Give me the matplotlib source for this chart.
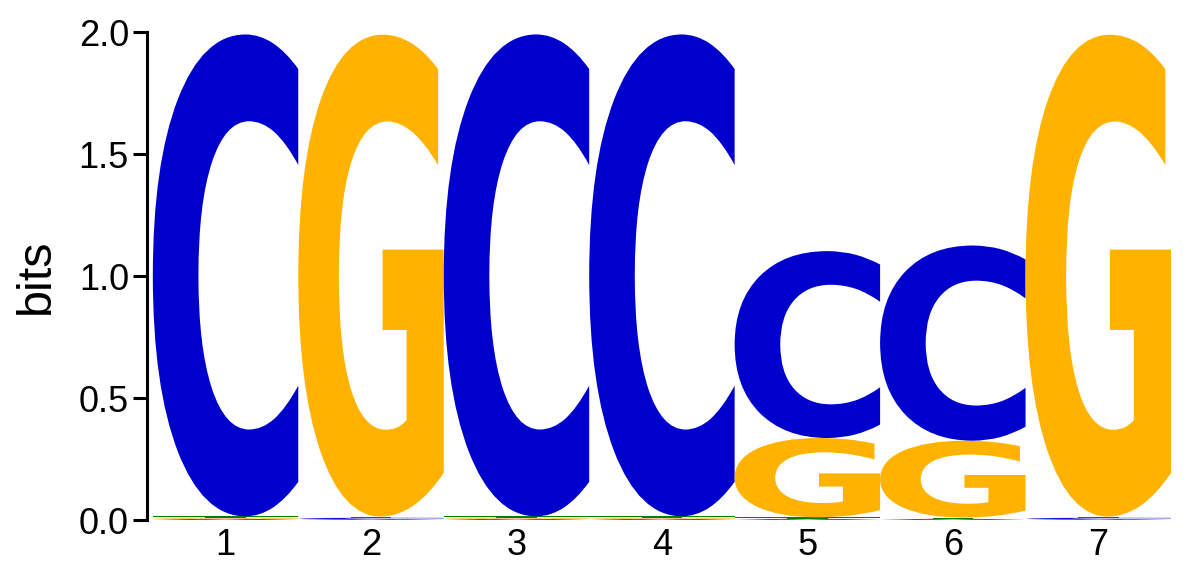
import matplotlib
matplotlib.use("Agg")
import matplotlib.pyplot as plt
from matplotlib.textpath import TextPath
from matplotlib.font_manager import FontProperties
from matplotlib.patches import PathPatch
from matplotlib.transforms import Affine2D

# information content (bits) per base at each motif position
positions = [1, 2, 3, 4, 5, 6, 7]
A_bits = [0.005, 0.004, 0.005, 0.005, 0.005, 0.005, 0.004]
C_bits = [1.975, 0.005, 1.975, 1.975, 0.766, 0.800, 0.005]
G_bits = [0.005, 1.975, 0.005, 0.005, 0.325, 0.315, 1.975]
T_bits = [0.005, 0.005, 0.005, 0.005, 0.006, 0.005, 0.005]

base_colors = {"A": "#CC0000", "C": "#0000CC", "G": "#FFB300", "T": "#008000"}
letter_font = FontProperties(family="DejaVu Sans", weight="bold")


def draw_letter(ax, letter, x, y0, height, width=1.0):
    path = TextPath((0, 0), letter, size=1, prop=letter_font)
    ext = path.get_extents()
    tr = (Affine2D()
          .translate(-ext.x0, -ext.y0)
          .scale(width / ext.width, height / ext.height)
          .translate(x - width / 2, y0))
    patch = PathPatch(tr.transform_path(path), facecolor=base_colors[letter],
                      edgecolor="none", lw=0)
    ax.add_patch(patch)


fig = plt.figure(figsize=(11.94, 5.65), dpi=100)
ax = fig.add_axes([147 / 1194, 45 / 565, (1171 - 147) / 1194, 488 / 565])

for i, pos in enumerate(positions):
    col = {"A": A_bits[i], "C": C_bits[i], "G": G_bits[i], "T": T_bits[i]}
    y = 0.0
    # smallest letters at the bottom, most informative on top
    for letter, h in sorted(col.items(), key=lambda kv: kv[1]):
        draw_letter(ax, letter, pos, y, h)
        y += h

ax.set_xlim(0.46, 7.5)
ax.set_ylim(0, 2.0)
ax.set_yticks([0.0, 0.5, 1.0, 1.5, 2.0])
ax.set_yticklabels(["0.0", "0.5", "1.0", "1.5", "2.0"])
ax.set_xticks(positions)
ax.set_xticklabels([str(p) for p in positions])

for s in ["top", "right", "bottom"]:
    ax.spines[s].set_visible(False)
ax.spines["left"].set_linewidth(2.2)
ax.tick_params(axis="y", length=10, width=2.2, labelsize=26, pad=3)
ax.tick_params(axis="x", length=0, labelsize=26, pad=6)
for lab in ax.get_xticklabels() + ax.get_yticklabels():
    lab.set_fontfamily("Liberation Sans")
ax.set_ylabel("bits", fontsize=35, family="Liberation Sans", labelpad=14)

fig.savefig("out.png", dpi=100)
